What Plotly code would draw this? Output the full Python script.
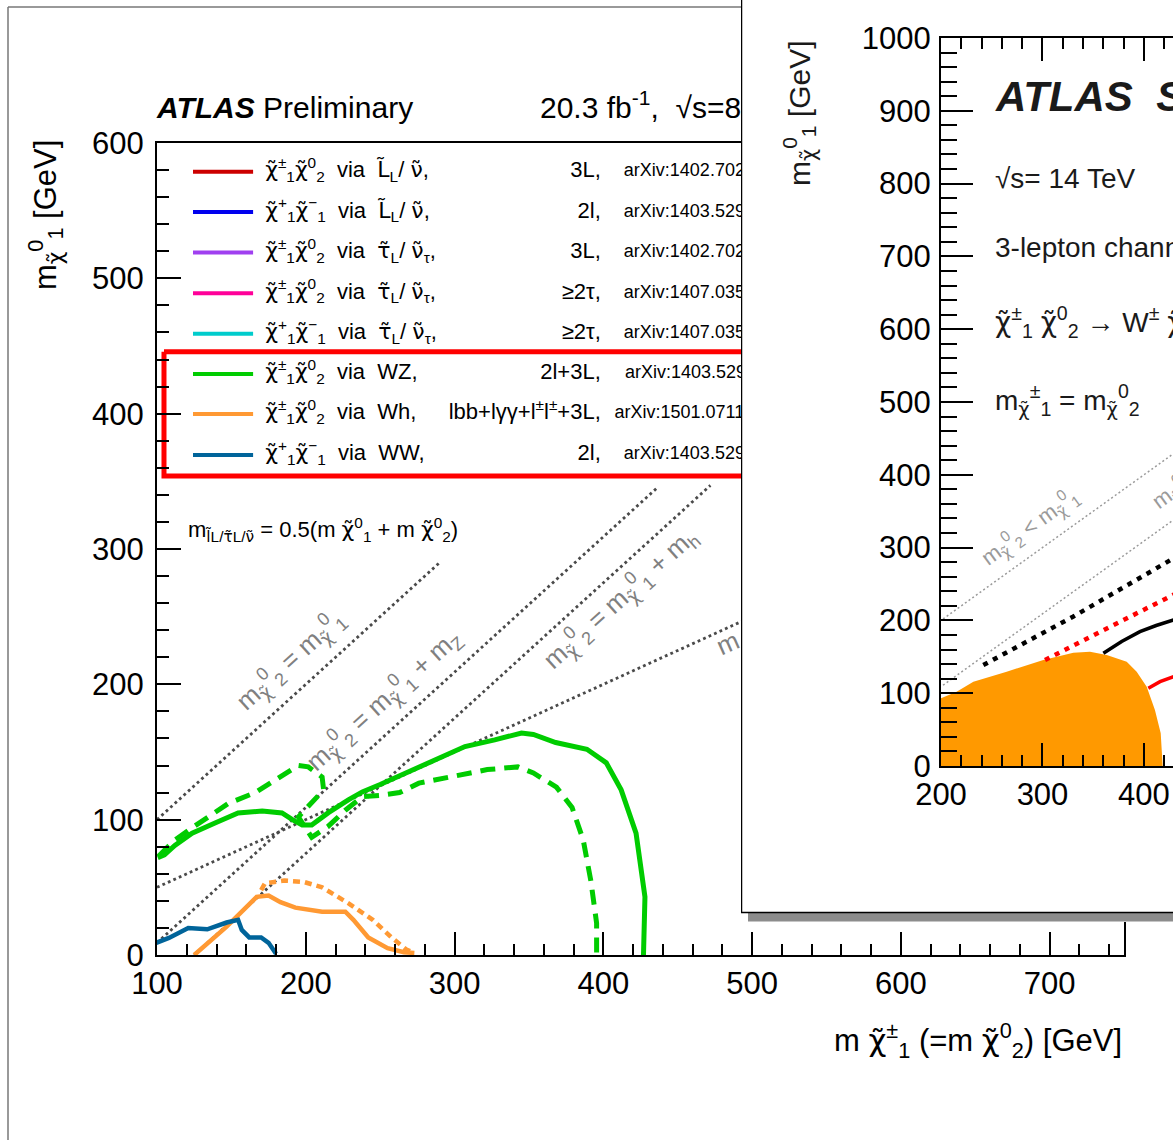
import plotly.graph_objects as go

W, H = 1173, 1140
FONT = "Liberation Sans, Arial, Helvetica, sans-serif"


def tl(ch):
    """letter with a tilde accent, rendered in a font with good combining-mark support"""
    return '<span style="font-family:DejaVu Sans">' + ch + '\u0303</span>'


CHI = tl("χ")

# ---------------- main plot (8 TeV summary) data, GeV ----------------
wz_obs_x = [100.5, 105, 112, 123.6, 139, 154.5, 170.7, 184, 191, 197.6, 204, 215, 228.6, 238, 250, 276, 307, 327,
            345, 353, 368, 389, 402, 412, 422, 428, 427]
wz_obs_y = [72, 74, 81, 90, 97.5, 105, 106.4, 105, 100, 96, 96, 105, 114.6, 120.5, 126, 139, 154, 159,
            164, 163, 157, 152, 142, 122, 90, 43, 0]

wz_exp_x = [101, 112, 123.6, 148, 166, 186, 195, 201.7, 211, 212, 204, 197.6, 195, 204, 215, 226.6, 238, 250,
            263, 276, 301, 322, 342.6, 353, 368.5, 379, 386.5, 391.6, 395.5, 395.5]
wz_exp_y = [73, 85, 94, 112, 120, 134.5, 140, 139, 131.5, 122, 112, 105, 102, 87, 95, 107, 117, 118,
            120, 127, 132, 137, 139, 134.5, 124, 109, 85, 55, 23.6, 0]

wh_obs_x = [125, 146.8, 167, 175, 183, 193, 211, 226.6, 232, 242, 255, 266, 273]
wh_obs_y = [0, 21, 43, 44, 39, 35, 32, 32, 26, 13, 5, 2, 1.5]

wh_exp_x = [170, 172.6, 185.5, 198.6, 211, 229, 245, 257.6, 267.6, 273]
wh_exp_y = [48, 53, 55, 54, 50, 38, 26, 13, 4, 1.5]

ww_obs_x = [99.5, 108, 121, 133.8, 146.8, 154.5, 157, 162, 170, 175, 180]
ww_obs_y = [9, 12.6, 20, 19, 24, 26, 18.5, 13, 13, 9, 1]

# kinematic reference lines (end points, GeV)
ref_x = [[100, 290], [100, 437], [125, 472], [100, 560]]
ref_y = [[100, 290], [9, 346], [0, 347], [50, 280]]

# legend entries
leg_colors = ["#cc0000", "#0000ee", "#a040f0", "#ff0099", "#00cccc", "#00cc00", "#ff9933", "#00649a"]
CC = CHI + "<sup>±</sup><sub>1</sub>" + CHI + "<sup>0</sup><sub>2</sub>"
PM = CHI + "<sup>+</sup><sub>1</sub>" + CHI + "<sup>−</sup><sub>1</sub>"
SL = tl("L") + "<sub>L</sub>/ " + tl("ν") + ","
ST = tl("τ") + "<sub>L</sub>/ " + tl("ν") + "<sub>τ</sub>,"
leg_process = [
    CC + "  via  " + SL,
    PM + "  via  " + SL,
    CC + "  via  " + ST,
    CC + "  via  " + ST,
    PM + "  via  " + ST,
    CC + "  via  WZ,",
    CC + "  via  Wh,",
    PM + "  via  WW,",
]
leg_channel = ["3L,", "2l,", "3L,", "≥2τ,", "≥2τ,", "2l+3L,", "lbb+lγγ+l<sup>±</sup>l<sup>±</sup>+3L,", "2l,"]
leg_ref = ["arXiv:1402.7029", "arXiv:1403.5294", "arXiv:1402.7029", "arXiv:1407.0350", "arXiv:1407.0350",
           "arXiv:1403.5294", "arXiv:1501.07110", "arXiv:1403.5294"]
leg_rows = [578.7, 549, 519, 489, 459, 429.4, 399.8, 369.5]
leg_ref_x = [413.8, 413.8, 413.8, 413.8, 413.8, 414.5, 407.5, 413.8]

# ---------------- inset (14 TeV prospects) data, GeV ----------------
excl_x = [200, 200, 215.4, 231.9, 264.7, 300.8, 330.4, 346.8, 363.3, 383, 392.8, 402.7, 410.8, 416.5, 418.4, 200]
excl_y = [0, 93, 102, 115.8, 129.6, 145.6, 155.7, 157, 152.5, 143.3, 129.6, 109, 77, 44.9, 0, 0]

blk_dash_x = [241.7, 330, 430]
blk_dash_y = [138.7, 205, 286]
red_dash_x = [302.5, 363.3, 430]
red_dash_y = [145.6, 189, 236]
blk_sol_x = [360, 378, 396, 412, 430]
blk_sol_y = [154.8, 171, 184.5, 193, 201]
red_sol_x = [404.3, 415.8, 430]
red_sol_y = [106.7, 115.8, 123]
inset_ref_x = [[202, 430], [202, 430]]
inset_ref_y = [[202, 430], [111, 339]]

fig = go.Figure()

# ---- main plot traces (xy) ----
for rx, ry in zip(ref_x, ref_y):
    fig.add_trace(go.Scatter(x=rx, y=ry, mode="lines",
                             line=dict(color="#4a4a4a", width=2.8, dash="2.8px,3.2px"),
                             xaxis="x", yaxis="y", hoverinfo="skip"))

fig.add_trace(go.Scatter(x=wz_exp_x, y=wz_exp_y, mode="lines",
                         line=dict(color="#00cc00", width=5, dash="15px,9px"), xaxis="x", yaxis="y"))
fig.add_trace(go.Scatter(x=wz_obs_x, y=wz_obs_y, mode="lines",
                         line=dict(color="#00cc00", width=5), xaxis="x", yaxis="y"))
fig.add_trace(go.Scatter(x=wh_exp_x, y=wh_exp_y, mode="lines",
                         line=dict(color="#ff9933", width=4.5, dash="7px,5px"), xaxis="x", yaxis="y"))
fig.add_trace(go.Scatter(x=wh_obs_x, y=wh_obs_y, mode="lines",
                         line=dict(color="#ff9933", width=4.5), xaxis="x", yaxis="y"))
fig.add_trace(go.Scatter(x=ww_obs_x, y=ww_obs_y, mode="lines",
                         line=dict(color="#00649a", width=4.5), xaxis="x", yaxis="y"))

# legend (drawn inside the main frame so that the inset covers it)
for c, yrow in zip(leg_colors, leg_rows):
    fig.add_trace(go.Scatter(x=[124.2, 164.6], y=[yrow, yrow], mode="lines",
                             line=dict(color=c, width=4), xaxis="x", yaxis="y"))
fig.add_trace(go.Scatter(x=[172.7] * len(leg_rows), y=leg_rows, mode="text", text=leg_process,
                         textposition="middle right", textfont=dict(family=FONT, size=22, color="black"),
                         xaxis="x", yaxis="y"))
fig.add_trace(go.Scatter(x=[398.3] * len(leg_rows), y=leg_rows, mode="text", text=leg_channel,
                         textposition="middle left", textfont=dict(family=FONT, size=22, color="black"),
                         xaxis="x", yaxis="y"))
fig.add_trace(go.Scatter(x=leg_ref_x, y=leg_rows, mode="text", text=leg_ref,
                         textposition="middle right", textfont=dict(family=FONT, size=18, color="black"),
                         xaxis="x", yaxis="y"))
# red highlight box
fig.add_trace(go.Scatter(x=[104.7, 104.7, 620, 620, 104.7], y=[445.7, 354, 354, 445.7, 445.7], mode="lines",
                         line=dict(color="#ff0000", width=5), xaxis="x", yaxis="y"))

# ---- header band (x2y2, pixel units) : partly hidden under the inset ----
fig.add_trace(go.Scatter(x=[157, 540], y=[110, 110], mode="text",
                         text=["<b><i>ATLAS</i></b> Preliminary", "20.3 fb<sup>-1</sup>,  √s=8 TeV"],
                         textposition="middle right", textfont=dict(family=FONT, size=30, color="black"),
                         xaxis="x2", yaxis="y2"))

# ---- inset cover (x3y3, pixel units) ----
fig.add_trace(go.Scatter(x=[748, 1173, 1173, 748, 748], y=[913, 913, 921.5, 921.5, 913], mode="lines",
                         fill="toself", fillcolor="#8c8c8c", line=dict(width=0), xaxis="x3", yaxis="y3"))
fig.add_trace(go.Scatter(x=[741.5, 741.5, 1173], y=[0, 912.5, 912.5], mode="lines",
                         line=dict(color="black", width=1.5), xaxis="x3", yaxis="y3"))

# ---- inset plot (x4y4) ----
fig.add_trace(go.Scatter(x=excl_x, y=excl_y, mode="lines", fill="toself", fillcolor="#ff9900",
                         line=dict(width=0, color="#ff9900"), xaxis="x4", yaxis="y4"))
for rx, ry in zip(inset_ref_x, inset_ref_y):
    fig.add_trace(go.Scatter(x=rx, y=ry, mode="lines", line=dict(color="#9a9a9a", width=1.5, dash="2px,2.5px"),
                             xaxis="x4", yaxis="y4"))
fig.add_trace(go.Scatter(x=blk_dash_x, y=blk_dash_y, mode="lines",
                         line=dict(color="black", width=4.5, dash="5px,6px"), xaxis="x4", yaxis="y4"))
fig.add_trace(go.Scatter(x=red_dash_x, y=red_dash_y, mode="lines",
                         line=dict(color="#ff0000", width=4.5, dash="5px,6px"), xaxis="x4", yaxis="y4"))
fig.add_trace(go.Scatter(x=blk_sol_x, y=blk_sol_y, mode="lines",
                         line=dict(color="black", width=3.5), xaxis="x4", yaxis="y4"))
fig.add_trace(go.Scatter(x=red_sol_x, y=red_sol_y, mode="lines",
                         line=dict(color="#ff0000", width=3.5), xaxis="x4", yaxis="y4"))

axis_common = dict(showgrid=False, zeroline=False, showline=True, linecolor="black", linewidth=2,
                   ticks="inside", tickcolor="black", tickwidth=2, automargin=False)
hidden = dict(visible=False, automargin=False, showgrid=False, zeroline=False)

fig.update_layout(
    template="none",
    width=W, height=H, autosize=False, margin=dict(l=0, r=0, t=0, b=0, pad=0),
    paper_bgcolor="white", plot_bgcolor="white", showlegend=False,
    font=dict(family=FONT, color="black"),
    xaxis=dict(domain=[157 / W, 1124 / W], range=[100, 750], anchor="y", tick0=0, dtick=100, ticklen=23,
               mirror=True, tickfont=dict(size=31), ticklabelstandoff=0,
               minor=dict(ticks="inside", ticklen=11, tick0=0, dtick=20, tickcolor="black", tickwidth=2,
                          showgrid=False),
               **axis_common),
    yaxis=dict(domain=[1 - 955 / H, 1 - 143 / H], range=[0, 600], anchor="x", tick0=0, dtick=100, ticklen=24,
               mirror=True, tickfont=dict(size=31), ticklabelstandoff=5,
               minor=dict(ticks="inside", ticklen=12, tick0=0, dtick=20, tickcolor="black", tickwidth=2,
                          showgrid=False),
               **axis_common),
    xaxis2=dict(domain=[0, 1], range=[0, W], anchor="y2", **hidden),
    yaxis2=dict(domain=[1 - 141 / H, 1 - 60 / H], range=[141, 60], anchor="x2", **hidden),
    xaxis3=dict(domain=[741 / W, 1], range=[741, 1173], anchor="y3", **hidden),
    yaxis3=dict(domain=[1 - 922 / H, 1], range=[922, 0], anchor="x3", **hidden),
    xaxis4=dict(domain=[941 / W, 1], range=[200, 428.6], anchor="y4", tick0=0, dtick=100, ticklen=23,
                mirror="ticks", tickfont=dict(size=31), ticklabelstandoff=0,
                minor=dict(ticks="inside", ticklen=11, tick0=0, dtick=20, tickcolor="black", tickwidth=2,
                           showgrid=False),
                **axis_common),
    yaxis4=dict(domain=[1 - 766 / H, 1 - 38 / H], range=[0, 1000], anchor="x4", tick0=0, dtick=100, ticklen=32,
                mirror=False, tickfont=dict(size=31), ticklabelstandoff=2,
                minor=dict(ticks="inside", ticklen=16, tick0=0, dtick=20, tickcolor="black", tickwidth=2,
                           showgrid=False),
                **axis_common),
)

# outer page frame of the original slide
fig.add_shape(type="line", xref="paper", yref="paper", x0=8 / W, x1=741 / W, y0=1 - 7 / H, y1=1 - 7 / H,
              line=dict(color="#777777", width=1.5), layer="below")
fig.add_shape(type="line", xref="paper", yref="paper", x0=8 / W, x1=8 / W, y0=1 - 7 / H, y1=0,
              line=dict(color="#777777", width=1.5), layer="below")


def ann(text, px, py, size, color="black", angle=0, xanchor="center", yanchor="middle"):
    fig.add_annotation(text=text, x=px / W, y=1 - py / H, xref="paper", yref="paper", showarrow=False,
                       textangle=angle, xanchor=xanchor, yanchor=yanchor,
                       font=dict(family=FONT, size=size, color=color))


# main plot texts
ann("m<sub>" + tl("l") + "L/" + tl("τ") + "L/" + tl("ν") + "</sub> = 0.5(m " + CHI + "<sup>0</sup><sub>1</sub> + m "
    + CHI + "<sup>0</sup><sub>2</sub>)", 186, 530, 22, xanchor="left")
ann("m<sub>" + CHI + "</sub><sup>0</sup><sub>1</sub> [GeV]", 45, 215, 31, angle=-90)
ann("m " + CHI + "<sup>±</sup><sub>1</sub> (=m " + CHI + "<sup>0</sup><sub>2</sub>) [GeV]", 1124, 1040, 31,
    xanchor="right")
GRAY = "#808080"
M2 = "m<sub>" + CHI + "</sub><sup>0</sup><sub>2</sub>"
M1 = "m<sub>" + CHI + "</sub><sup>0</sup><sub>1</sub>"
ann(M2 + " = " + M1, 290, 660, 26, GRAY, -42)
ann(M2 + " = " + M1 + " + m<sub>Z</sub>", 383, 700, 26, GRAY, -42)
ann(M2 + " = " + M1 + " + m<sub>h</sub>", 620, 598, 26, GRAY, -42)
ann("m", 728, 643, 26, GRAY, -24)

# inset texts
INK = "#1a1a1a"
ann("<b><i>ATLAS</i></b>  <b><i>Simulation</i></b>", 993, 96, 42, INK, xanchor="left")
ann("√s= 14 TeV", 993, 178, 28, INK, xanchor="left")
ann("3-lepton channel", 993, 247, 28, INK, xanchor="left")
ann(CHI + "<sup>±</sup><sub>1</sub> " + CHI + "<sup>0</sup><sub>2</sub> → W<sup>±</sup> " + CHI
    + "<sup>0</sup><sub>1</sub> Z " + CHI + "<sup>0</sup><sub>1</sub>", 993, 322, 28, INK, xanchor="left")
ann("m<sub>" + CHI + "</sub><sup>±</sup><sub>1</sub> = m<sub>" + CHI + "</sub><sup>0</sup><sub>2</sub>",
    993, 400, 28, INK, xanchor="left")
ann(M1 + " [GeV]", 800, 113, 30, INK, angle=-90)
ann(M2 + " < " + M1, 1030, 527, 22, "#9a9a9a", -36)
ann(M2 + " = " + M1 + " + m<sub>Z</sub>", 1222, 455, 22, "#9a9a9a", -36)

fig.write_html("out.html")
